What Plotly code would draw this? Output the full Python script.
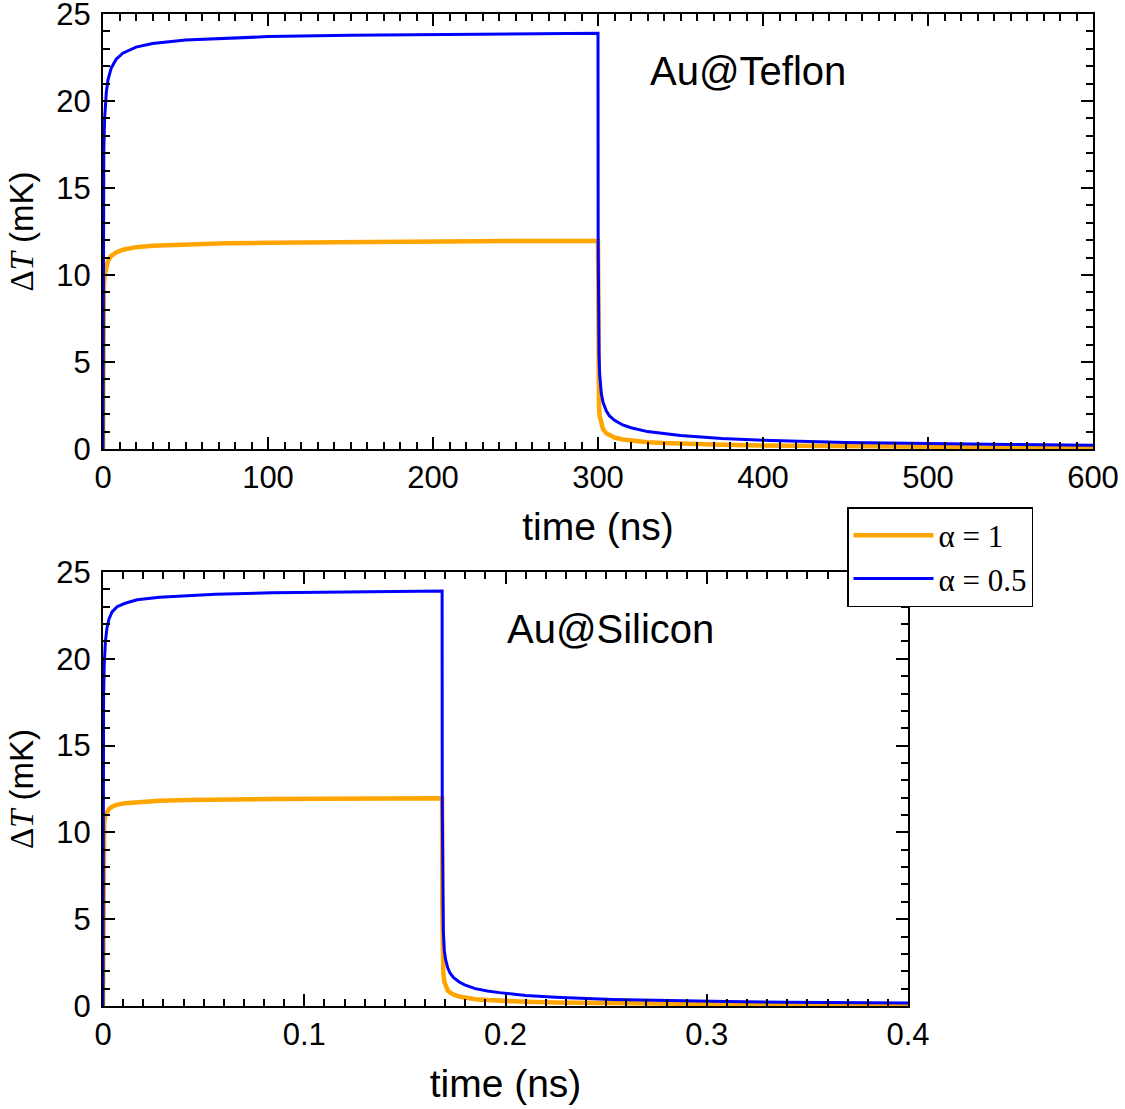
import plotly.graph_objects as go

# ---------------- data ----------------
# Top panel: Au@Teflon, time in ns
t_top = [0, 0.05, 0.2, 0.5, 1, 2, 3, 5, 8, 12, 20, 30, 50, 75, 100, 150, 200, 250, 300,
         300.1, 300.3, 300.6, 301, 302, 303, 305, 307, 310, 315, 320, 330, 340, 350, 375,
         400, 450, 500, 550, 600]
orange_top = [0, 5.5, 8.0, 9.3, 10.0, 10.5, 10.8, 11.1, 11.3, 11.45, 11.6, 11.68, 11.77, 11.82,
              11.85, 11.9, 11.93, 11.95, 11.96,
              6.0, 3.5, 2.5, 1.9, 1.4, 1.15, 0.9, 0.78, 0.66, 0.55, 0.48, 0.39, 0.34, 0.3, 0.24,
              0.2, 0.15, 0.12, 0.1, 0.09]
blue_top = [0, 9, 14, 17.2, 19.0, 20.5, 21.2, 21.9, 22.4, 22.75, 23.1, 23.3, 23.5, 23.62,
            23.7, 23.78, 23.83, 23.87, 23.9,
            12, 7.5, 5.5, 4.3, 3.2, 2.7, 2.2, 1.9, 1.65, 1.38, 1.22, 1.0, 0.87, 0.77, 0.6,
            0.5, 0.38, 0.31, 0.26, 0.22]

# Bottom panel: Au@Silicon, time in ns
t_bot = [0, 0.00003, 0.0001, 0.0003, 0.0006, 0.0012, 0.002, 0.003, 0.0045, 0.007, 0.011, 0.017,
         0.028, 0.042, 0.056, 0.084, 0.112, 0.14, 0.1685,
         0.16856, 0.16867, 0.16884, 0.1691, 0.1696, 0.1702, 0.1713, 0.1724, 0.1741, 0.177,
         0.1797, 0.185, 0.191, 0.197, 0.21, 0.225, 0.253, 0.281, 0.31, 0.34, 0.37, 0.4]
orange_bot = [0, 6, 8.6, 9.9, 10.6, 11.0, 11.2, 11.35, 11.48, 11.6, 11.68, 11.75, 11.82, 11.86,
              11.89, 11.92, 11.94, 11.96, 11.97,
              6.0, 3.5, 2.5, 1.9, 1.4, 1.15, 0.9, 0.78, 0.66, 0.55, 0.48, 0.39, 0.34, 0.3, 0.24,
              0.2, 0.15, 0.12, 0.1, 0.09, 0.08, 0.07]
blue_bot = [0, 9.5, 14.5, 17.8, 19.6, 21.0, 21.8, 22.3, 22.7, 23.0, 23.2, 23.4, 23.55, 23.65,
            23.72, 23.8, 23.84, 23.88, 23.9,
            12, 7.5, 5.5, 4.3, 3.2, 2.7, 2.2, 1.9, 1.65, 1.38, 1.22, 1.0, 0.87, 0.77, 0.6,
            0.5, 0.38, 0.31, 0.26, 0.22, 0.19, 0.17]

series_names = ["α = 1", "α = 0.5"]
series_colors = ["#FFA500", "#0000FF"]
panel_labels = ["Au@Teflon", "Au@Silicon"]
x_title = "time (ns)"
y_title = "<span style='font-family:Liberation Serif'>Δ<i>T</i></span> (mK)"

# ---------------- figure ----------------
fig = go.Figure()
fig.add_trace(go.Scatter(x=t_top, y=orange_top, mode="lines", name=series_names[0],
                         line=dict(color=series_colors[0], width=4.5), xaxis="x", yaxis="y"))
fig.add_trace(go.Scatter(x=t_top, y=blue_top, mode="lines", name=series_names[1],
                         line=dict(color=series_colors[1], width=3), xaxis="x", yaxis="y"))
fig.add_trace(go.Scatter(x=t_bot, y=orange_bot, mode="lines", showlegend=False,
                         line=dict(color=series_colors[0], width=4.5), xaxis="x2", yaxis="y2"))
fig.add_trace(go.Scatter(x=t_bot, y=blue_bot, mode="lines", showlegend=False,
                         line=dict(color=series_colors[1], width=3), xaxis="x2", yaxis="y2"))

sans = "Liberation Sans, Arial, sans-serif"
tickfont = dict(family=sans, size=31, color="black")


def ax(dtick, minor_dtick, rng, title, standoff, tsize, lstand):
    return dict(range=rng, dtick=dtick, tick0=0, showline=True, linecolor="black", linewidth=2,
                mirror="allticks", ticks="inside", ticklen=12, tickwidth=2, tickcolor="black",
                showgrid=False, zeroline=False, tickfont=tickfont, automargin=False,
                ticklabeloverflow="allow", ticklabelstandoff=lstand,
                minor=dict(dtick=minor_dtick, ticks="inside", ticklen=7, tickwidth=2,
                           tickcolor="black", showgrid=False),
                title=dict(text=title, font=dict(family=sans, size=tsize, color="black"),
                           standoff=standoff))


W, H = 1125, 1109
ml, mr, mt, mb = 103, 32, 14, 103
pw, ph = W - ml - mr, H - mt - mb

top_y0 = (H - mb - 449) / ph
bot_y1 = (H - mb - 572) / ph
bot_x1 = (908 - ml) / pw

fig.update_layout(
    width=W, height=H,
    margin=dict(l=ml, r=mr, t=mt, b=mb, autoexpand=False),
    paper_bgcolor="white", plot_bgcolor="white",
    xaxis=dict(**ax(100, 10, [0, 600], x_title, 18, 39, 0), domain=[0, 1], anchor="y"),
    yaxis=dict(**ax(5, 1, [0, 25], y_title, 13, 33, 4), domain=[top_y0, 1], anchor="x"),
    xaxis2=dict(**ax(0.1, 0.01, [0, 0.4], x_title, 18, 39, 0), domain=[0, bot_x1], anchor="y2"),
    yaxis2=dict(**ax(5, 1, [0, 25], y_title, 13, 33, 4), domain=[0, bot_y1], anchor="x2"),
    legend=dict(x=(847 - ml) / pw, y=(H - mb - 507) / ph, xanchor="left", yanchor="top",
                bordercolor="black", borderwidth=1.5, bgcolor="white", itemwidth=80,
                font=dict(family="Liberation Serif, Times New Roman, serif", size=31, color="black"),
                tracegroupgap=0),
    showlegend=True,
    annotations=[
        dict(text=panel_labels[0], x=391, y=21.7, xref="x", yref="y", showarrow=False,
             font=dict(family=sans, size=40, color="black")),
        dict(text=panel_labels[1], x=0.252, y=21.7, xref="x2", yref="y2", showarrow=False,
             font=dict(family=sans, size=40, color="black")),
    ],
)

fig.write_html("out.html")
